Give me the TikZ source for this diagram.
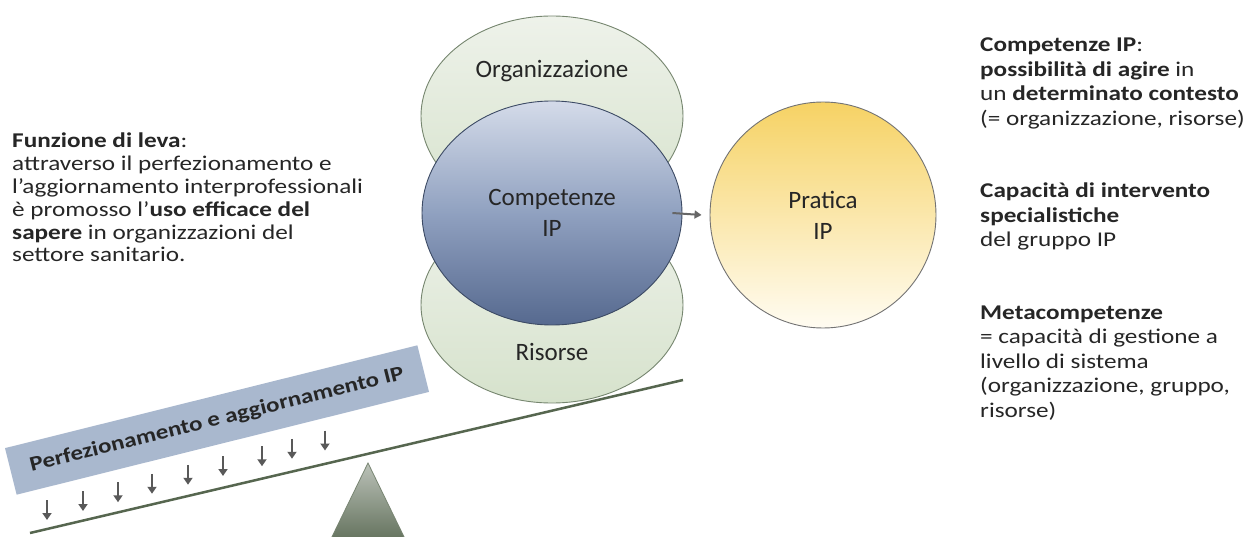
\documentclass[tikz,border=0pt]{standalone}
\usepackage{fontspec}
\setmainfont{Carlito}
\newfontfamily\widefont{Carlito}[FakeStretch=1.2]
\usetikzlibrary{arrows.meta,positioning,calc,shapes.geometric}
\definecolor{ctxtop}{HTML}{EEF2EA}
\definecolor{ctxbot}{HTML}{D6E2CC}
\definecolor{ctxline}{HTML}{76866F}
\definecolor{comptop}{HTML}{D4DBE9}
\definecolor{compmid}{HTML}{90A1C0}
\definecolor{compbot}{HTML}{56698F}
\definecolor{practop}{HTML}{F6D264}
\definecolor{pracbot}{HTML}{FFFCF2}
\definecolor{band}{HTML}{A9B8CE}
\definecolor{lever}{HTML}{56664F}
\definecolor{txt}{HTML}{262626}

\begin{document}
\begin{tikzpicture}[x=1pt, y=-1pt,
    blob/.style={ellipse, inner sep=0pt, line width=0.9pt},
    ctx/.style={blob, draw=ctxline, top color=ctxtop, bottom color=ctxbot, minimum width=262pt},
    comp/.style={blob, draw=compbot!70!black, top color=comptop, bottom color=compbot,
                 middle color=compmid, minimum width=260pt, minimum height=224pt},
    prac/.style={blob, draw=black!55, top color=practop, bottom color=pracbot,
                 minimum width=226pt, minimum height=226pt},
    lbl/.style={font=\fontsize{25}{31}\selectfont, text=txt, align=center},
    note/.style={font=\widefont\fontsize{21}{22.8}\selectfont, text=txt, align=left, inner sep=0pt, anchor=north west},
    arr/.style={-{Triangle[length=7pt,width=8pt]}, line width=2pt, black!60},
    dn/.style={-{Triangle[length=7pt,width=9pt]}, line width=2.5pt, black!65}]
  \clip (0,0) rectangle (1248,537);
  \fill[white] (0,0) rectangle (1248,537);
  % context and competences
  \node[ctx, minimum height=200pt] (org) at (552,116) {};
  \node[ctx, minimum height=196pt] (ris) at (552,305) {};
  \node[comp] (comp) at (552,213) {};
  \node[lbl] (orgl) at ([yshift=-56pt]org.north) {Organizzazione};
  \node[lbl] (risl) at ([yshift=51pt]ris.south) {Risorse};
  \node[lbl] (compl) at (comp.center) {Competenze\\IP};
  % practice
  \node[prac] (prac) at (823,215) {};
  \node[lbl] (pracl) at (prac.center) {Pratica\\IP};
  \draw[arr] ([xshift=-10pt]comp.east) -- ([xshift=-8pt]prac.west);
  % lever
  \coordinate (pivot) at (368,463);
  \shade[draw=lever!80, line width=0.8pt, top color=lever!40, bottom color=lever!95]
    (pivot) -- (328,545) -- (408,545) -- cycle;
  \coordinate (leva) at (30,533);
  \coordinate (levb) at (683,380);
  \draw[lever, line width=2.5pt] (leva) -- (levb);
  \node[fill=band, rotate=14, minimum width=425pt, minimum height=48pt,
        font=\widefont\bfseries\fontsize{20.8}{24}\selectfont, text=txt] (train) at (217,420)
        {\raisebox{3pt}{Perfezionamento e aggiornamento IP}};
  \foreach \px in {47,83,118,152,188,223,262,292,325}
    \draw[dn] (\px,{500-0.25*(\px-47)}) -- ++(0,20);
  % explanations
  \node[note] (leverage) at (12,133) {\textbf{Funzione di leva}:\\
    attraverso il perfezionamento e\\
    l’aggiornamento interprofessionali\\
    è promosso l’\textbf{uso efficace del}\\
    \textbf{sapere} in organizzazioni del\\
    settore sanitario.};
  \node[note, font=\widefont\fontsize{21}{24.5}\selectfont] (meaning) at (980,38) {\textbf{Competenze IP}:\\
    \textbf{possibilità di agire} in\\
    un \textbf{determinato contesto}\\
    (= organizzazione, risorse)\\[48pt]
    \textbf{Capacità di intervento}\\
    \textbf{specialistiche}\\
    del gruppo IP\\[48pt]
    \textbf{Metacompetenze}\\
    = capacità di gestione a\\
    livello di sistema\\
    (organizzazione, gruppo,\\
    risorse)};
\end{tikzpicture}
\end{document}
